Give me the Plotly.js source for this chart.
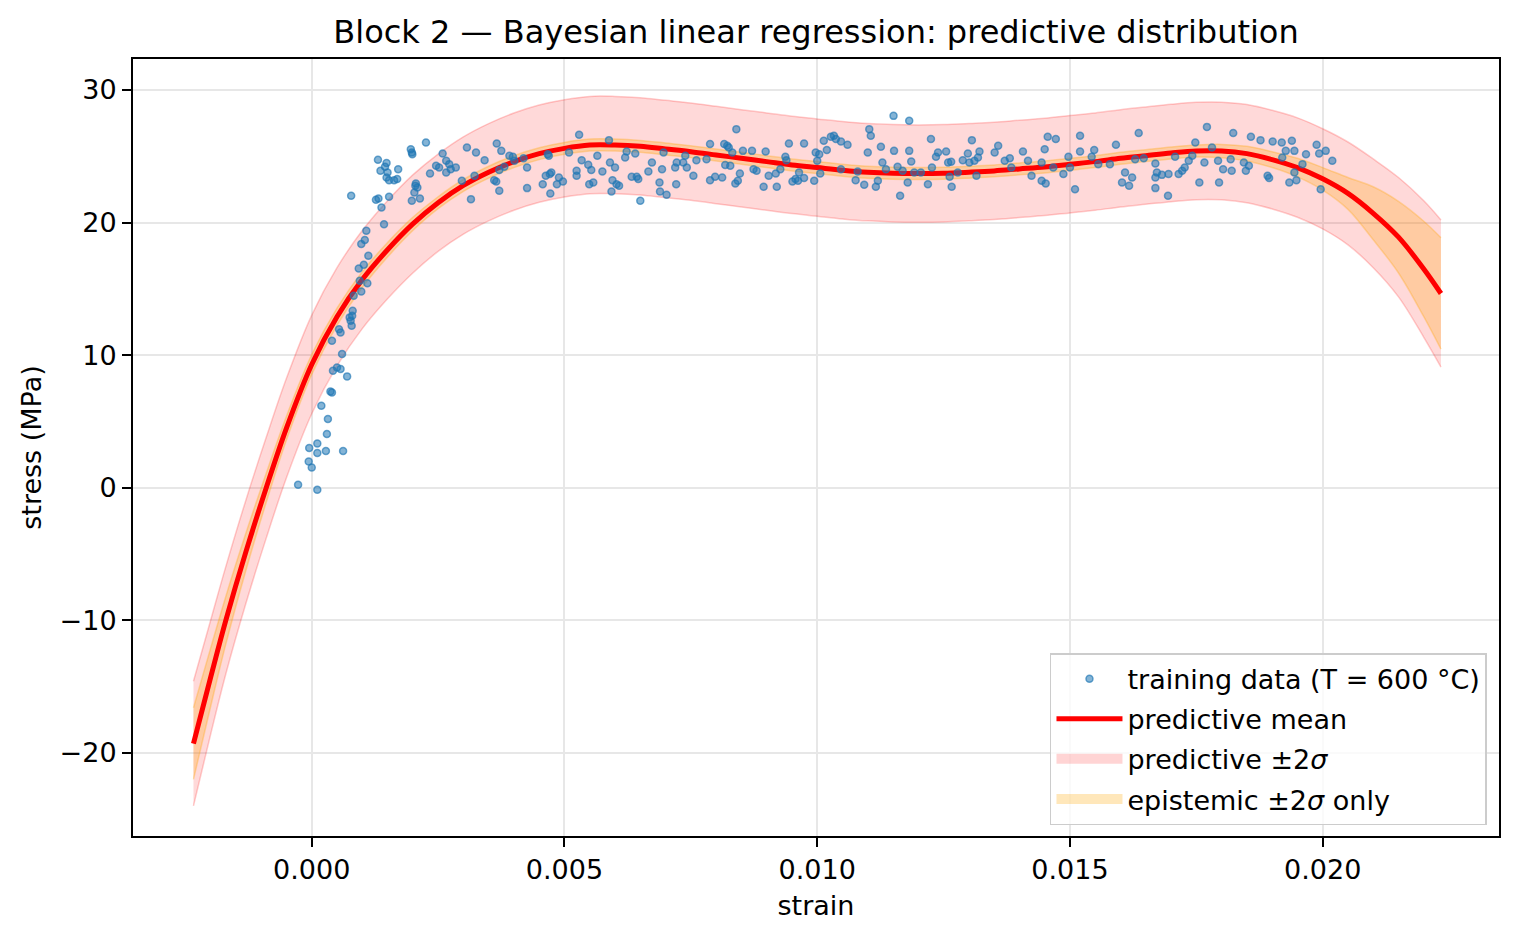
<!DOCTYPE html>
<html>
<head>
<meta charset="utf-8">
<script src="https://cdn.plot.ly/plotly-3.0.1.min.js"></script>
<style>
  html, body { margin: 0; padding: 0; background: #fff; }
  #chart { width: 1518px; height: 941px; }
</style>
</head>
<body>
<div id="chart"></div>
<script>
    // training data (T = 600 °C)
    var dataStrain = [
        -0.00027, 0.00011, -0.00006, 0.0, -0.00005, 0.00011, 0.00011, 0.00028, 0.00062, 0.00030,
        0.00032, 0.00019, 0.00037, 0.00040, 0.00050, 0.00042, 0.00057, 0.00070, 0.00060, 0.00057,
        0.00054, 0.00040, 0.00081, 0.00080, 0.00077, 0.00079, 0.00075, 0.00095, 0.00098, 0.00083,
        0.00110, 0.00112, 0.00103, 0.00093, 0.00108, 0.00105, 0.00098, 0.00143, 0.00078, 0.00127,
        0.00132, 0.00138, 0.00153, 0.00198, 0.00214, 0.00206, 0.00205, 0.00209, 0.00203, 0.00131,
        0.00148, 0.00145, 0.00136, 0.00150, 0.00148, 0.00153, 0.00163, 0.00169, 0.00171, 0.00196,
        0.00199, 0.00198, 0.00226, 0.00259, 0.00246, 0.00252, 0.00266, 0.00272, 0.00275, 0.00266,
        0.00234, 0.00285,
        0.00297, 0.00307, 0.00322, 0.00325, 0.00342, 0.00361, 0.00365, 0.00366, 0.00371, 0.00375,
        0.00371, 0.00381, 0.00391, 0.00401, 0.00398, 0.00419, 0.00426, 0.00426, 0.00315, 0.00457,
        0.00463, 0.00467, 0.00469, 0.00471, 0.00472, 0.00474, 0.00485, 0.00489, 0.00497, 0.00509,
        0.00524, 0.00524, 0.00529, 0.00534, 0.00547, 0.00549, 0.00553, 0.00557, 0.00565, 0.00575,
        0.00588, 0.00590, 0.00595, 0.00600, 0.00603, 0.00593, 0.00608, 0.00620, 0.00623, 0.00633,
        0.00640, 0.00643, 0.00646, 0.00650, 0.00666, 0.00673, 0.00688, 0.00689, 0.00693, 0.00696,
        0.00702, 0.00719, 0.00721, 0.00722, 0.00735, 0.00739, 0.00742, 0.00755, 0.00761, 0.00781,
        0.00788, 0.00788, 0.00798,
        0.00812, 0.00816, 0.00822, 0.00825, 0.00818, 0.00828, 0.00832, 0.00840, 0.00838, 0.00843,
        0.00847, 0.00853, 0.00871, 0.00874, 0.00880, 0.00898, 0.00894, 0.00904, 0.00918, 0.00920,
        0.00927, 0.00937, 0.00939, 0.00944, 0.00951, 0.00957, 0.00962, 0.00964, 0.00974, 0.00974,
        0.00994, 0.00997, 0.01000, 0.01004, 0.01006, 0.01013, 0.01019, 0.01027, 0.01033, 0.01037,
        0.01047, 0.01060, 0.01047, 0.01076, 0.01080, 0.01093, 0.01100, 0.01103, 0.01106, 0.01116,
        0.01120, 0.01126, 0.01129, 0.01136, 0.01151, 0.01152, 0.01159, 0.01164, 0.01169, 0.01179,
        0.01182, 0.01182, 0.01186, 0.01192, 0.01205, 0.01219, 0.01225, 0.01227, 0.01235, 0.01239,
        0.01255, 0.01259, 0.01262, 0.01265, 0.01266, 0.01278, 0.01288, 0.01298, 0.01301, 0.01306,
        0.01311, 0.01315, 0.01318, 0.01321, 0.01351, 0.01358,
        0.01371, 0.01381, 0.01384, 0.01407, 0.01417, 0.01424, 0.01444, 0.01444, 0.01452, 0.01450,
        0.01456, 0.01472, 0.01467, 0.01487, 0.01497, 0.01500, 0.01510, 0.01520, 0.01520, 0.01543,
        0.01548, 0.01556, 0.01579, 0.01591, 0.01603, 0.01609, 0.01617, 0.01623, 0.01636, 0.01629,
        0.01646, 0.01669, 0.01672, 0.01669, 0.01669, 0.01682, 0.01694, 0.01695, 0.01708, 0.01715,
        0.01722, 0.01727, 0.01735, 0.01742, 0.01748, 0.01756, 0.01766, 0.01771, 0.01781, 0.01795,
        0.01793, 0.01803, 0.01818, 0.01820, 0.01823, 0.01844, 0.01848, 0.01854, 0.01858, 0.01877,
        0.01891, 0.01894, 0.01901, 0.01919, 0.01920, 0.01927, 0.01939, 0.01944, 0.01934, 0.01944,
        0.01948, 0.01960, 0.01967, 0.01988, 0.01993, 0.02006, 0.01996, 0.02019
    ];
    var dataStress = [
        0.23, -0.15, 1.98, 1.53, 2.99, 3.34, 2.62, 2.77, 2.77, 4.05,
        5.18, 6.18, 7.26, 7.19, 9.07, 8.82, 8.95, 8.40, 10.08, 11.71,
        11.96, 11.09, 13.35, 12.97, 12.59, 12.22, 12.85, 15.61, 14.80, 14.48,
        15.43, 17.50, 16.82, 16.54, 19.38, 18.68, 18.38, 19.88, 22.02, 21.72,
        21.82, 21.14, 21.95, 21.64, 21.82, 22.95, 22.78, 22.65, 22.27, 24.74,
        24.49, 24.21, 23.91, 23.78, 23.40, 23.20, 23.20, 23.28, 24.03, 25.54,
        25.16, 25.29, 26.04, 25.21, 24.28, 24.16, 24.66, 24.41, 24.03, 23.78,
        23.70, 24.16,
        23.15, 25.66, 23.53, 25.29, 24.71, 23.20, 23.10, 25.97, 23.96, 25.41,
        22.40, 24.21, 25.04, 24.66, 24.96, 24.86, 24.16, 22.60, 21.77, 22.90,
        23.53, 25.16, 25.04, 23.66, 22.20, 23.78, 22.90, 23.40, 23.10, 25.29,
        23.53, 23.91, 26.62, 24.71, 24.36, 22.90, 23.96, 23.03, 25.04, 23.85,
        26.22, 24.53, 23.20, 24.16, 22.90, 22.35, 22.78, 24.91, 25.36, 23.45,
        25.21, 23.45, 23.28, 21.64, 23.85, 24.53, 23.03, 22.35, 24.03, 25.29,
        22.10, 24.16, 22.90, 24.53, 24.53, 25.04, 24.16, 23.53, 24.71, 24.78,
        25.92, 23.20, 23.45,
        23.40, 25.92, 25.79, 25.66, 24.34, 24.28, 25.29, 27.05, 22.95, 23.15,
        23.70, 25.41, 25.41, 24.03, 23.91, 25.36, 22.70, 23.53, 23.70, 22.70,
        24.03, 24.96, 24.71, 25.97, 23.10, 23.28, 23.15, 23.78, 25.97, 23.36,
        23.15, 25.29, 24.66, 25.16, 23.70, 26.17, 25.47, 26.47, 26.55, 26.30,
        26.12, 25.87, 24.03, 23.20, 23.85, 22.85, 25.29, 27.05, 26.55, 22.70,
        23.15, 25.72, 24.53, 24.03, 28.05, 25.41, 24.21, 22.02, 23.91, 23.03,
        27.68, 25.41, 24.61, 23.78, 23.78, 22.90, 26.30, 24.16, 24.96, 25.29,
        25.36, 24.53, 23.45, 24.59, 22.70, 23.78, 24.71, 25.21, 24.53, 26.22,
        24.66, 23.53, 24.91, 25.36, 25.29, 25.79,
        24.66, 24.86, 24.16, 25.36, 24.66, 23.53, 24.53, 23.15, 22.95, 25.54,
        26.47, 26.30, 24.16, 23.66, 24.96, 24.16, 22.52, 26.55, 25.36, 24.96,
        25.47, 24.41, 24.41, 25.87, 23.03, 23.78, 22.78, 23.40, 26.75, 24.78,
        24.86, 24.46, 23.78, 23.40, 22.60, 23.60, 22.02, 23.66, 24.96, 23.66,
        23.91, 24.16, 24.66, 25.04, 26.04, 23.03, 24.53, 27.22, 25.66, 23.03,
        24.66, 24.03, 24.78, 23.91, 26.75, 24.53, 23.91, 24.28, 26.47, 26.22,
        23.53, 23.36, 26.12, 26.04, 24.91, 25.41, 26.17, 25.41, 23.03, 23.78,
        23.20, 24.41, 25.16, 25.87, 25.21, 25.41, 22.52, 24.66
    ];

    // predictive curve
    var gridStrain = [
        -0.00234, -0.0020, -0.0017, -0.0013, -0.0009, -0.0005,
        0.0000, 0.0005, 0.0010, 0.0015, 0.0020, 0.0025, 0.0030, 0.0035, 0.0040, 0.0045,
        0.0050, 0.0055, 0.0060, 0.0065, 0.0070, 0.0075, 0.0080, 0.0085, 0.0090, 0.0095,
        0.0100, 0.0105, 0.0110, 0.0115, 0.0120, 0.0125, 0.0130, 0.0135, 0.0140, 0.0145,
        0.0150, 0.0155, 0.0160, 0.0165, 0.0170, 0.0175, 0.0180, 0.0185, 0.0190, 0.0195,
        0.0200, 0.0205, 0.0210, 0.0215, 0.0220, 0.02234
    ];
    var meanStress = [
        -19.3, -14.3, -10.0, -4.8, 0.0, 4.5,
        9.3, 12.9, 15.7, 17.95, 19.9, 21.5, 22.8, 23.8, 24.6, 25.2,
        25.6, 25.85, 25.85, 25.75, 25.55, 25.35, 25.1, 24.85, 24.6, 24.35,
        24.15, 23.95, 23.8, 23.72, 23.7, 23.72, 23.8, 23.9, 24.05, 24.2,
        24.4, 24.6, 24.85, 25.05, 25.25, 25.4, 25.4, 25.2, 24.75, 24.15,
        23.3, 22.2, 20.7, 18.9, 16.5, 14.65
    ];
    var epiHalf = [
        2.7, 2.2, 1.8, 1.4, 1.1, 0.9,
        0.75, 0.65, 0.6, 0.55, 0.5, 0.45, 0.45, 0.45, 0.45, 0.45,
        0.45, 0.45, 0.45, 0.45, 0.45, 0.45, 0.45, 0.45, 0.45, 0.45,
        0.45, 0.45, 0.45, 0.45, 0.45, 0.45, 0.45, 0.45, 0.45, 0.45,
        0.45, 0.45, 0.45, 0.45, 0.45, 0.45, 0.5, 0.55, 0.6, 0.7,
        0.85, 1.2, 2.0, 2.7, 3.6, 4.2
    ];
    var predHalf = [
        4.7, 4.3, 4.05, 3.9, 3.8, 3.75,
        3.72, 3.7, 3.7, 3.7, 3.7, 3.67, 3.67, 3.67, 3.67, 3.67,
        3.67, 3.67, 3.67, 3.67, 3.67, 3.67, 3.67, 3.67, 3.67, 3.67,
        3.67, 3.67, 3.67, 3.67, 3.67, 3.67, 3.67, 3.67, 3.67, 3.67,
        3.67, 3.67, 3.67, 3.67, 3.67, 3.67, 3.68, 3.7, 3.72, 3.75,
        3.78, 3.88, 4.1, 4.5, 5.15, 5.55
    ];

    var xTicks = [0.000, 0.005, 0.010, 0.015, 0.020];
    var xTickText = ['0.000', '0.005', '0.010', '0.015', '0.020'];
    var yTicks = [-20, -10, 0, 10, 20, 30];
    var yTickText = ['\u221220', '\u221210', '0', '10', '20', '30'];

    var predLow = meanStress.map(function (m, i) { return m - predHalf[i]; });
    var predHigh = meanStress.map(function (m, i) { return m + predHalf[i]; });
    var epiLow = meanStress.map(function (m, i) { return m - epiHalf[i]; });
    var epiHigh = meanStress.map(function (m, i) { return m + epiHalf[i]; });

    var FONT = 'DejaVu Sans, Liberation Sans, sans-serif';
    var PINK = 'rgba(255,0,0,0.15)', PINK_EDGE = 'rgba(255,0,0,0.2)';
    var ORANGE = 'rgba(255,165,0,0.25)', ORANGE_EDGE = 'rgba(255,165,0,0.3)';

    // bands (legend entries are drawn by the swatch traces further down)
    var predLowTrace = {
        x: gridStrain, y: predLow, type: 'scatter', mode: 'lines',
        line: {color: PINK_EDGE, width: 1.5, shape: 'spline'},
        showlegend: false, hoverinfo: 'skip'
    };
    var predHighTrace = {
        x: gridStrain, y: predHigh, type: 'scatter', mode: 'lines',
        fill: 'tonexty', fillcolor: PINK,
        line: {color: PINK_EDGE, width: 1.5, shape: 'spline'},
        showlegend: false
    };
    var epiLowTrace = {
        x: gridStrain, y: epiLow, type: 'scatter', mode: 'lines',
        line: {color: ORANGE_EDGE, width: 1.5, shape: 'spline'},
        showlegend: false, hoverinfo: 'skip'
    };
    var epiHighTrace = {
        x: gridStrain, y: epiHigh, type: 'scatter', mode: 'lines',
        fill: 'tonexty', fillcolor: ORANGE,
        line: {color: ORANGE_EDGE, width: 1.5, shape: 'spline'},
        showlegend: false
    };
    var meanTrace = {
        x: gridStrain, y: meanStress, type: 'scatter', mode: 'lines',
        name: 'predictive mean',
        line: {color: '#ff0000', width: 5, shape: 'spline'},
        legendgroup: 'b', legendrank: 2
    };
    var dataTrace = {
        x: dataStrain, y: dataStress, type: 'scatter', mode: 'markers',
        name: 'training data (T = 600 \u00b0C)',
        marker: {
            color: 'rgba(31,119,180,0.55)', size: 7,
            line: {color: 'rgba(31,119,180,0.65)', width: 1.5}
        },
        legendgroup: 'a', legendrank: 1
    };
    // legend-only swatches for the two bands
    var predSwatch = {
        x: [null], y: [null], type: 'scatter', mode: 'lines',
        name: 'predictive \u00b12<i>\u03c3</i>',
        line: {color: 'rgba(255,0,0,0.17)', width: 20},
        legendgroup: 'c', legendrank: 3
    };
    var epiSwatch = {
        x: [null], y: [null], type: 'scatter', mode: 'lines',
        name: 'epistemic \u00b12<i>\u03c3</i> only',
        line: {color: 'rgba(255,165,0,0.27)', width: 20},
        legendgroup: 'd', legendrank: 4
    };

    var data = [predLowTrace, predHighTrace, epiLowTrace, epiHighTrace, meanTrace, dataTrace,
                predSwatch, epiSwatch];

    var layout = {
        width: 1518,
        height: 941,
        paper_bgcolor: '#ffffff',
        plot_bgcolor: '#ffffff',
        margin: {l: 133, r: 19, t: 59, b: 105},
        font: {family: FONT, size: 27, color: '#000000'},
        title: {
            text: 'Block 2 \u2014 Bayesian linear regression: predictive distribution',
            font: {family: FONT, size: 32, color: '#000000'},
            x: 0.5, xref: 'paper', xanchor: 'center',
            y: 0.966, yref: 'container', yanchor: 'middle'
        },
        showlegend: true,
        legend: {
            x: 0.9912, xanchor: 'right',
            y: 0.014, yanchor: 'bottom',
            bgcolor: 'rgba(255,255,255,0.8)',
            bordercolor: '#cccccc',
            borderwidth: 1.5,
            font: {family: FONT, size: 27, color: '#000000'},
            traceorder: 'grouped',
            tracegroupgap: 2,
            itemwidth: 66
        },
        xaxis: {
            range: [-0.003536, 0.023488],
            tickvals: xTicks,
            ticktext: xTickText,
            showgrid: true,
            gridcolor: '#e7e7e7',
            gridwidth: 1.5,
            zeroline: false,
            showline: true,
            linecolor: '#000000',
            linewidth: 2,
            mirror: true,
            ticks: 'outside',
            ticklen: 9,
            tickwidth: 2,
            tickcolor: '#000000',
            tickfont: {family: FONT, size: 27, color: '#000000'},
            title: {text: 'strain', font: {family: FONT, size: 27, color: '#000000'}, standoff: 12}
        },
        yaxis: {
            range: [-26.27, 32.34],
            tickvals: yTicks,
            ticktext: yTickText,
            showgrid: true,
            gridcolor: '#e7e7e7',
            gridwidth: 1.5,
            zeroline: false,
            showline: true,
            linecolor: '#000000',
            linewidth: 2,
            mirror: true,
            ticks: 'outside',
            ticklen: 9,
            tickwidth: 2,
            tickcolor: '#000000',
            tickfont: {family: FONT, size: 27, color: '#000000'},
            title: {text: 'stress (MPa)', font: {family: FONT, size: 27, color: '#000000'}, standoff: 10}
        }
    };

    Plotly.newPlot('chart', data, layout, {displayModeBar: false, responsive: false});
</script>
</body>
</html>
